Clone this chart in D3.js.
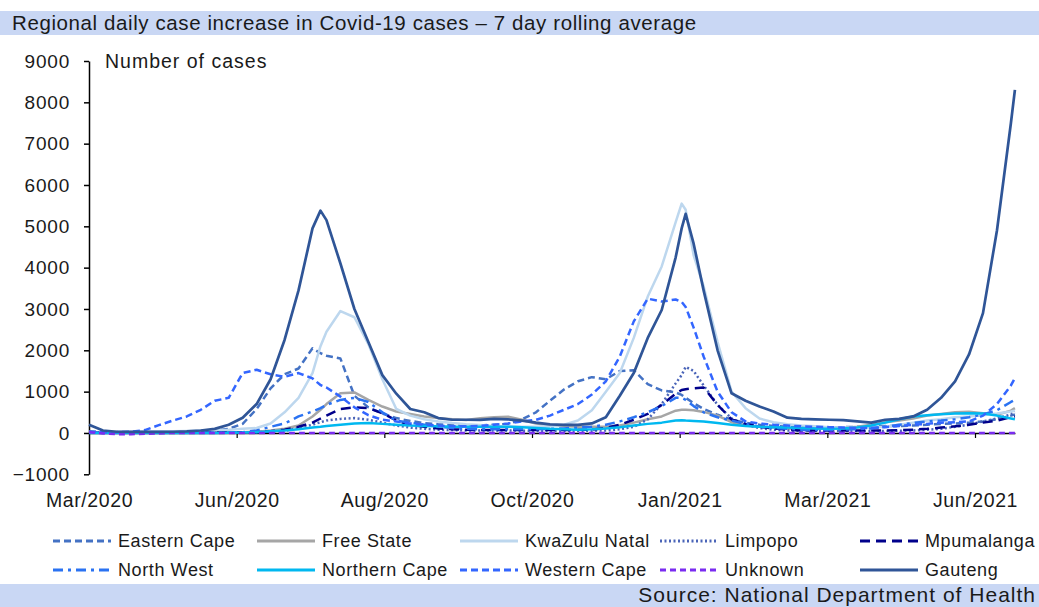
<!DOCTYPE html>
<html>
<head>
<meta charset="utf-8">
<script src="https://cdn.jsdelivr.net/npm/d3@7"></script>
<style>
  body { margin: 0; background: #ffffff; }
  text { font-family: "Liberation Sans", Arial, sans-serif; fill: #1a1a1a; }
</style>
</head>
<body>
<div id="chart"></div>
<script>
var days = [0,7,14,21,28,35,42,49,56,63,70,77,84,91,98,105,112,116,119,126,133,140,147,154,161,168,175,182,189,196,203,210,217,224,231,238,245,252,259,266,273,280,287,294,297,299,303,308,315,322,329,336,343,350,357,364,371,378,385,392,399,406,413,420,427,434,441,448,455,462,464];

var easternCape = [40,20,10,10,10,15,20,30,40,60,100,220,580,1080,1420,1560,2050,1930,1870,1800,900,620,470,360,290,240,210,190,180,180,200,220,330,500,780,1050,1250,1350,1300,1500,1520,1180,1030,980,920,850,720,580,440,320,250,200,170,150,140,130,130,140,150,160,170,170,180,200,220,230,250,280,330,420,450];
var freeState = [5,5,5,5,5,5,5,5,5,10,10,15,30,60,100,180,400,560,700,960,980,800,640,520,460,400,360,330,315,355,380,394,320,230,190,170,150,150,150,180,250,330,400,540,560,560,550,510,420,260,180,150,130,110,100,100,110,120,150,200,260,300,350,420,460,500,515,480,440,540,600];
var kwaZuluNatal = [10,20,30,30,40,40,40,50,60,70,80,100,120,230,500,850,1450,2100,2450,2950,2800,2150,1300,580,420,330,280,240,210,190,170,160,150,150,160,200,300,550,1000,1450,2300,3300,4030,5100,5550,5400,4300,3550,2200,1000,600,350,260,210,180,160,140,130,120,130,150,200,250,300,330,380,400,430,470,520,540];
var limpopo = [5,5,5,5,5,5,5,5,5,5,10,15,20,30,50,120,200,260,300,340,360,320,250,180,130,100,80,70,60,60,60,60,55,50,50,50,50,55,60,90,150,330,700,1200,1400,1600,1500,1150,680,350,200,120,80,60,50,50,50,50,50,50,50,55,60,80,100,150,200,280,350,450,500];
var mpumalanga = [5,5,5,5,5,5,5,5,5,10,10,15,20,40,80,150,250,350,420,580,620,600,480,300,200,150,110,90,80,70,70,70,70,70,70,70,75,80,120,200,320,460,680,950,1040,1060,1080,1100,680,330,220,150,110,80,60,60,60,60,60,60,60,70,80,100,130,160,200,250,300,380,400];
var northWest = [5,5,5,5,5,5,5,5,5,5,10,20,60,150,230,400,520,600,680,800,850,750,500,300,250,200,150,120,100,90,90,90,90,90,100,110,130,150,200,280,380,500,650,850,850,800,650,500,380,300,220,150,120,100,80,70,70,80,90,110,150,200,240,280,300,330,380,450,550,750,800];
var northernCape = [2,2,2,2,2,2,2,2,2,2,5,10,20,40,60,90,130,150,170,200,230,240,220,200,180,170,160,150,150,150,150,150,140,120,100,90,80,90,110,140,180,220,250,300,310,300,290,280,240,200,170,150,140,130,120,110,100,110,130,180,250,330,400,430,450,470,480,470,420,350,330];
var westernCape = [30,20,20,30,70,190,300,400,560,780,850,1450,1530,1420,1360,1450,1320,1160,1100,880,620,430,320,280,230,200,180,160,160,170,200,230,280,320,420,560,700,930,1250,1850,2700,3250,3180,3230,3170,3050,2550,1850,1000,500,280,230,200,180,160,150,140,130,120,120,140,170,200,220,250,260,280,420,700,1150,1330];
var unknown = [20,-10,-30,-30,-20,-10,0,0,0,0,0,0,0,0,0,0,0,0,0,0,0,0,0,0,0,0,0,0,0,0,0,0,0,0,0,0,0,0,0,0,0,0,0,0,0,0,0,0,0,0,0,0,0,0,0,0,0,0,0,0,0,0,0,0,0,0,0,0,0,0,0];
var gauteng = [200,60,30,25,25,25,30,40,60,100,200,370,700,1300,2250,3450,4950,5380,5150,4100,3000,2200,1400,950,580,500,360,320,320,315,340,330,300,250,210,195,195,230,380,900,1450,2300,2975,4250,4950,5300,4580,3450,2000,960,780,640,520,370,340,330,320,310,280,250,320,340,400,560,850,1250,1900,2900,4900,7500,8300];

var seriesNames = ["Eastern Cape","Free State","KwaZulu Natal","Limpopo","Mpumalanga","North West","Northern Cape","Western Cape","Unknown","Gauteng"];

// x axis: tick positions (day index) and their labels
var xTickDays = [0,74,148,222,296,370,444];
var xTickLabels = ["Mar/2020","Jun/2020","Aug/2020","Oct/2020","Jan/2021","Mar/2021","Jun/2021"];
var yTickValues = [-1000,0,1000,2000,3000,4000,5000,6000,7000,8000,9000];

// line styles per series (same order as seriesNames)
var seriesStyles = [
  { color: "#4472c4", width: 2.5, dash: "7,4" },
  { color: "#a6a6a6", width: 2.5, dash: null },
  { color: "#bdd7ee", width: 2.5, dash: null },
  { color: "#4a64b8", width: 2.5, dash: "2,2.5" },
  { color: "#00008b", width: 2.5, dash: "10,6" },
  { color: "#2a72f2", width: 2.5, dash: "10,5,3,5" },
  { color: "#00b8f0", width: 2.5, dash: null },
  { color: "#3366ff", width: 2.5, dash: "7,4" },
  { color: "#7a2cf0", width: 2.5, dash: "6,4" },
  { color: "#2f5597", width: 2.7, dash: null }
];
var seriesValues = [easternCape, freeState, kwaZuluNatal, limpopo, mpumalanga, northWest, northernCape, westernCape, unknown, gauteng];

var svgWidth = 1039;
var svgHeight = 607;

var svg = d3.select("#chart")
  .append("svg")
  .attr("width", svgWidth)
  .attr("height", svgHeight);

// title and source bands
svg.append("rect").attr("x", 0).attr("y", 11).attr("width", svgWidth).attr("height", 24).attr("fill", "#c9d7f4");
svg.append("text").attr("x", 12).attr("y", 30).attr("font-size", "20.5px").attr("letter-spacing", "0.6px")
  .text("Regional daily case increase in Covid-19 cases – 7 day rolling average");

svg.append("rect").attr("x", 0).attr("y", 584).attr("width", svgWidth).attr("height", 23).attr("fill", "#c9d7f4");
svg.append("text").attr("x", 1036).attr("y", 602).attr("text-anchor", "end").attr("font-size", "21px").attr("letter-spacing", "1px")
  .text("Source: National Department of Health");

// scales
var x = d3.scaleLinear().domain([0, 464]).range([89, 89 + 464 * 1.9955]);
var y = d3.scaleLinear().domain([-1000, 9000]).range([474.3, 61]);

// y axis
var yAxis = svg.append("g")
  .attr("transform", "translate(89,0)")
  .call(d3.axisLeft(y).tickValues(yTickValues).tickFormat(d3.format("d")).tickSize(5).tickSizeOuter(0).tickPadding(14));
yAxis.select(".domain").attr("stroke", "#000").attr("stroke-width", 1.5);
yAxis.selectAll(".tick line").attr("stroke", "#000").attr("stroke-width", 1.5);
yAxis.selectAll(".tick text")
  .attr("font-family", "Liberation Sans, Arial, sans-serif")
  .attr("font-size", "19px")
  .attr("letter-spacing", "0.8px")
  .attr("fill", "#1a1a1a");

svg.append("text").attr("x", 105).attr("y", 68).attr("font-size", "19.5px").attr("letter-spacing", "1px").text("Number of cases");

// x axis sits on the zero line, labels go below the plot
var xAxis = svg.append("g")
  .attr("transform", "translate(0," + y(0) + ")")
  .call(d3.axisBottom(x).tickValues(xTickDays).tickFormat(function(d, i) { return xTickLabels[i]; }).tickSize(5).tickSizeOuter(0));
xAxis.select(".domain").attr("stroke", "#000").attr("stroke-width", 1.5);
xAxis.selectAll(".tick line").attr("stroke", "#000").attr("stroke-width", 1.2)
  .filter(function(d) { return d === 0; }).remove();
xAxis.selectAll(".tick text")
  .attr("y", 60)
  .attr("dy", "0.71em")
  .attr("font-family", "Liberation Sans, Arial, sans-serif")
  .attr("font-size", "19.5px")
  .attr("letter-spacing", "0.6px")
  .attr("fill", "#1a1a1a");

// lines
var line = d3.line()
  .x(function(d) { return x(d.day); })
  .y(function(d) { return y(d.value); });

var lineGroup = svg.append("g");
seriesValues.forEach(function(values, i) {
  var points = days.map(function(day, j) { return { day: day, value: values[j] }; });
  var style = seriesStyles[i];
  lineGroup.append("path")
    .datum(points)
    .attr("d", line)
    .attr("fill", "none")
    .attr("stroke", style.color)
    .attr("stroke-width", style.width)
    .attr("stroke-linejoin", "round")
    .attr("stroke-dasharray", style.dash);
});

// legend: two rows of five
var legendCols = [53, 257, 460, 660, 860];
var legendRows = [541, 570];
var legend = svg.append("g");
seriesNames.forEach(function(name, i) {
  var lx = legendCols[i % 5];
  var ly = legendRows[Math.floor(i / 5)];
  var style = seriesStyles[i];
  legend.append("line")
    .attr("x1", lx).attr("x2", lx + 58)
    .attr("y1", ly).attr("y2", ly)
    .attr("stroke", style.color)
    .attr("stroke-width", 3)
    .attr("stroke-dasharray", style.dash);
  legend.append("text")
    .attr("x", lx + 65)
    .attr("y", ly)
    .attr("dy", "0.35em")
    .attr("font-size", "18px")
    .attr("letter-spacing", "0.6px")
    .text(name);
});
</script>
</body>
</html>
